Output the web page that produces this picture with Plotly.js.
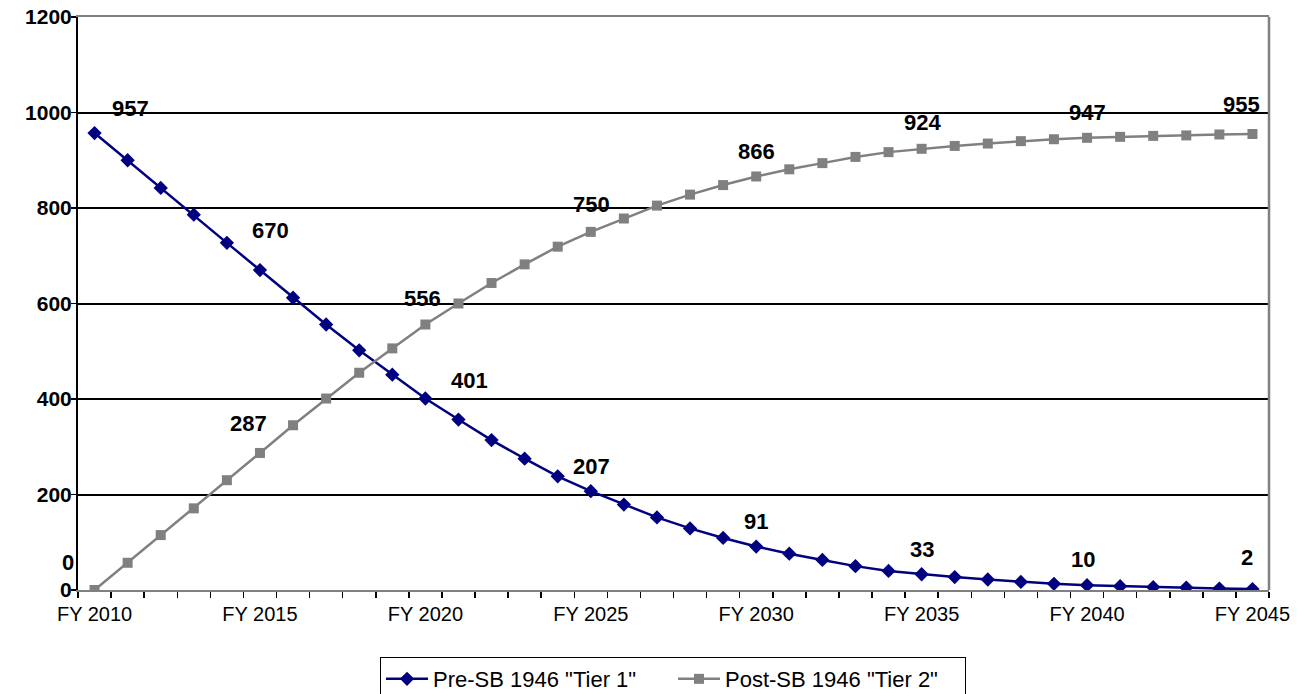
<!DOCTYPE html>
<html>
<head>
<meta charset="utf-8">
<script src="https://cdn.plot.ly/plotly-3.0.1.min.js"></script>
<style>html,body{margin:0;padding:0;background:#fff;}#chart{width:1306px;height:694px;}</style>
</head>
<body>
<div id="chart"></div>
<script>
// ---- data ----
const years = [2010,2011,2012,2013,2014,2015,2016,2017,2018,2019,
               2020,2021,2022,2023,2024,2025,2026,2027,2028,2029,
               2030,2031,2032,2033,2034,2035,2036,2037,2038,2039,
               2040,2041,2042,2043,2044,2045];
const tier1Name = 'Pre-SB 1946 "Tier 1"';
const tier2Name = 'Post-SB 1946 "Tier 2"';
const tier1 = [957,900,842,786,727,670,612,556,502,451,
               401,357,314,275,238,207,179,152,129,109,
               91,76,63,50,40,33,27,22,17,13,
               10,8,6,5,3,2];
const tier2 = [0,57,115,171,230,287,345,401,455,506,
               556,600,643,682,719,750,778,805,828,848,
               866,881,894,907,917,924,930,935,940,944,
               947,949,951,952,954,955];
const tickYears = [2010,2015,2020,2025,2030,2035,2040,2045];
const tickLabels = ["FY 2010","FY 2015","FY 2020","FY 2025","FY 2030","FY 2035","FY 2040","FY 2045"];
const yTicks = [0,200,400,600,800,1000,1200];

// label pixel offsets (positioning only)
const tier1Shift = [[36,25],[11,40],[44,18],[1,25],[0,25],[0,25],[-4,26],[-5,32]];
const tier2Shift = [[-27,28],[-11,29],[-3,26],[1,27],[0,25],[1,26],[0,25],[-11,29]];

const FONT = 'Liberation Sans, Arial, sans-serif';

const traces = [
  {x: years, y: tier1, name: tier1Name, type: 'scatter', mode: 'lines+markers',
   line: {color: '#000080', width: 2.5},
   marker: {symbol: 'diamond', size: 11, color: '#000080'}},
  {x: years, y: tier2, name: tier2Name, type: 'scatter', mode: 'lines+markers',
   line: {color: '#808080', width: 2.5},
   marker: {symbol: 'square', size: 10, color: '#808080'}}
];

const annotations = [];
tickYears.forEach((yr, k) => {
  const i = years.indexOf(yr);
  annotations.push({x: yr, y: tier1[i], xref: 'x', yref: 'y', text: String(tier1[i]),
    showarrow: false, xshift: tier1Shift[k][0], yshift: tier1Shift[k][1],
    font: {family: FONT, size: 22, color: '#000', weight: 'bold'}});
  annotations.push({x: yr, y: tier2[i], xref: 'x', yref: 'y', text: String(tier2[i]),
    showarrow: false, xshift: tier2Shift[k][0], yshift: tier2Shift[k][1],
    font: {family: FONT, size: 22, color: '#000', weight: 'bold'}});
});

const layout = {
  width: 1306, height: 694,
  margin: {l: 78, r: 37, t: 17, b: 104, autoexpand: false},
  paper_bgcolor: '#fff', plot_bgcolor: '#fff',
  font: {family: FONT, color: '#000'},
  showlegend: true,
  legend: {orientation: 'h', x: 0.4996, xanchor: 'center', y: -0.117, yanchor: 'top',
    bordercolor: '#000', borderwidth: 1, bgcolor: '#fff', entrywidth: 235, itemwidth: 42,
    font: {family: FONT, size: 22, color: '#000'}},
  xaxis: {
    range: [2009.5, 2045.5], tickmode: 'array', tickvals: tickYears, ticktext: tickLabels,
    ticks: '', showgrid: false, zeroline: false, automargin: false,
    showline: true, linecolor: '#808080', linewidth: 2, mirror: true,
    ticklabelstandoff: 5,
    tickfont: {family: FONT, size: 20, color: '#000'},
    minor: {ticks: 'outside', tick0: 2009.5, dtick: 1, ticklen: 6, tickcolor: '#000', tickwidth: 1.5, showgrid: false}
  },
  yaxis: {
    range: [0, 1200], tickmode: 'array', tickvals: yTicks, automargin: false,
    ticks: 'outside', ticklen: 5, tickcolor: '#000', tickwidth: 1.5,
    ticklabelstandoff: -5,
    showline: true, linecolor: '#000', linewidth: 2,
    showgrid: true, gridcolor: '#000', gridwidth: 2, zeroline: false,
    tickfont: {family: FONT, size: 21, color: '#000', weight: 'bold'}
  },
  shapes: [
    {type: 'line', xref: 'paper', yref: 'paper', x0: 1, x1: 1, y0: 0, y1: 1,
     line: {color: '#808080', width: 2.5}}
  ],
  annotations: annotations
};

Plotly.newPlot('chart', traces, layout, {displayModeBar: false, staticPlot: true});
</script>
</body>
</html>
